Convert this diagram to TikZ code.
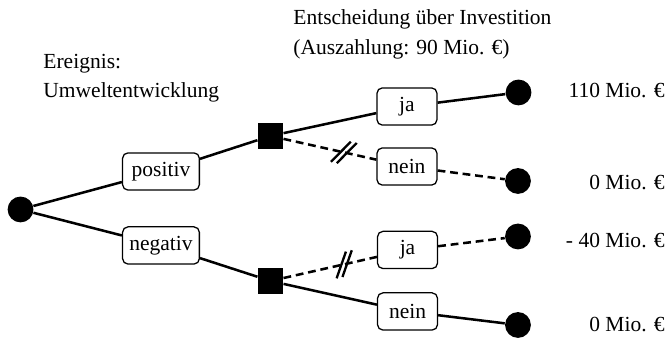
\documentclass[tikz,border=0pt]{standalone}
\usepackage{fontspec}
\setmainfont{Liberation Serif}
\usetikzlibrary{shapes, positioning}
\tikzset{
	% Zufallsknoten
	zufall/.style={
		circle,
		fill=black,
		inner sep=0pt,
		minimum size=0.43cm
	}, %
	% Entscheidungsknoten
	entscheid/.style={
		rectangle,
		fill=black,
		inner sep=0pt,
		minimum size=0.42cm
	}, %
	% Beschriftung der Aeste
	ast/.style={
		draw,
		rounded corners=0.9mm,
		fill=white,
		line width=0.6pt,
		inner sep=0pt,
		minimum height=0.62cm
	}, %
	% Linien
	linie/.style={line width=1.2pt},
	gestrichelt/.style={line width=1.2pt, dash pattern=on 1.3mm off 0.8mm},
	% Doppelstrich
	schnitt/.pic={
		\draw[solid, line width=1.1pt] (-0.175,-0.2)--(0.075,0.2) (-0.075,-0.2)--(0.175,0.2);
	}
}

\begin{document}
\begin{tikzpicture}[font=\fontsize{10.2}{14}\selectfont]
	\useasboundingbox (0,0) rectangle (11.1,5.633);
	
	% Texte
	\node[anchor=base west, align=left, inner sep=0pt] (entsch) at (4.883,4.733)
	{Entscheidung über Investition\\(Auszahlung: 90 Mio. €)};
	\node[anchor=base west, align=left, inner sep=0pt] (ereignis) at (0.717,4.0)
	{Ereignis:\\Umweltentwicklung};
	
	% Knoten
	\node[zufall] (wurzel) at (0.342,2.142) {};
	\node[ast, minimum width=1.28cm] (pos) at (2.683,2.775) {positiv};
	\node[ast, minimum width=1.28cm] (neg) at (2.683,1.542) {negativ};
	\node[entscheid] (sq1) at (4.508,3.367) {};
	\node[entscheid] (sq2) at (4.508,0.95) {};
	\node[ast, minimum width=1cm] (ja1) at (6.783,3.858) {ja};
	\node[ast, minimum width=1cm] (nein1) at (6.783,2.858) {nein};
	\node[ast, minimum width=1cm] (ja2) at (6.792,1.467) {ja};
	\node[ast, minimum width=1cm] (nein2) at (6.792,0.442) {nein};
	\node[zufall] (e1) at (8.642,4.092) {};
	\node[zufall] (e2) at (8.633,2.617) {};
	\node[zufall] (e3) at (8.633,1.692) {};
	\node[zufall] (e4) at (8.633,0.217) {};
	
	% Werte
	\node[anchor=base east, inner sep=0pt] (w1) at (11.083,4.0) {110 Mio. €};
	\node[anchor=base east, inner sep=0pt] (w2) at (11.083,2.467) {0 Mio. €};
	\node[anchor=base east, inner sep=0pt] (w3) at (11.083,1.5) {- 40 Mio. €};
	\node[anchor=base east, inner sep=0pt] (w4) at (11.083,0.1) {0 Mio. €};
	
	% Umwelt
	\draw[linie] (wurzel)--(pos);
	\draw[linie] (wurzel)--(neg);
	\draw[linie] (pos)--(sq1);
	\draw[linie] (neg)--(sq2);
	
	% Investition
	\draw[linie] (sq1)--(ja1);
	\draw[gestrichelt] (sq1)-- pic[pos=0.65, sloped] {schnitt} (nein1);
	\draw[gestrichelt] (sq2)-- pic[pos=0.65, sloped] {schnitt} (ja2);
	\draw[linie] (sq2)--(nein2);
	
	% Ergebnisse
	\draw[linie] (ja1)--(e1);
	\draw[gestrichelt] (nein1)--(e2);
	\draw[gestrichelt] (ja2)--(e3);
	\draw[linie] (nein2)--(e4);
\end{tikzpicture}
\end{document}
